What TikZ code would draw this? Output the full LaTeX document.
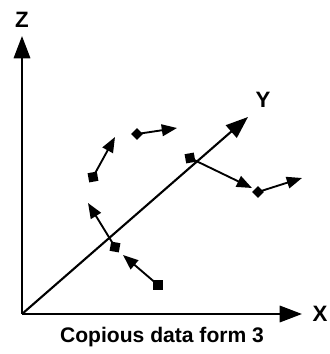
\documentclass[tikz,border=0pt]{standalone}
\usepackage{fontspec}
\setmainfont{Liberation Sans}
\usetikzlibrary{arrows.meta, shapes.geometric}

\tikzset{
  axis/.style={line width=1.8pt, -{Triangle[length=19pt, width=14pt]}},
  flow/.style={line width=1.6pt, -{Triangle[length=13pt, width=10pt]}},
  sqmark/.style={rectangle, fill=black, minimum size=0.28cm, inner sep=0pt},
  dmmark/.style={diamond, fill=black, minimum size=0.36cm, inner sep=0pt},
  axlabel/.style={font=\fontsize{19}{22}\selectfont\bfseries}
}

\begin{document}
\begin{tikzpicture}[x=0.03cm, y=0.03cm]
  \useasboundingbox (0,0) rectangle (330,354);

  % axes
  \coordinate (O) at (22,40);
  \node[axlabel] (zlab) at (22,334) {Z};
  \node[axlabel] (xlab) at (320,40) {X};
  \node[axlabel] (ylab) at (263,254) {Y};
  \coordinate (ztip) at (22,318);
  \coordinate (xtip) at (302,40);
  \coordinate (ytip) at (248,237);
  \draw[axis] (O) -- (ztip);
  \draw[axis] (O) -- (xtip);
  \draw[axis] (O) -- (ytip);

  % data points and their flow
  \node[sqmark, rotate=10] (p1) at (93,177) {};
  \coordinate (t1) at (115,217);
  \node[dmmark] (p2) at (137,220) {};
  \coordinate (t2) at (177,226);
  \node[sqmark, rotate=10] (p3) at (190,196) {};
  \coordinate (t3) at (252,166);
  \node[dmmark] (p4) at (258,162) {};
  \coordinate (t4) at (302,176);
  \node[sqmark, rotate=-10] (p5) at (115,107) {};
  \coordinate (t5) at (88,151);
  \node[sqmark] (p6) at (158,69) {};
  \coordinate (t6) at (123,99);
  \foreach \i in {1,...,6}
    \draw[flow] (p\i.center) -- (t\i);

  % caption
  \node[font=\fontsize{18}{21}\selectfont\bfseries] (cap) at (162,17) {Copious data form 3};
\end{tikzpicture}
\end{document}
